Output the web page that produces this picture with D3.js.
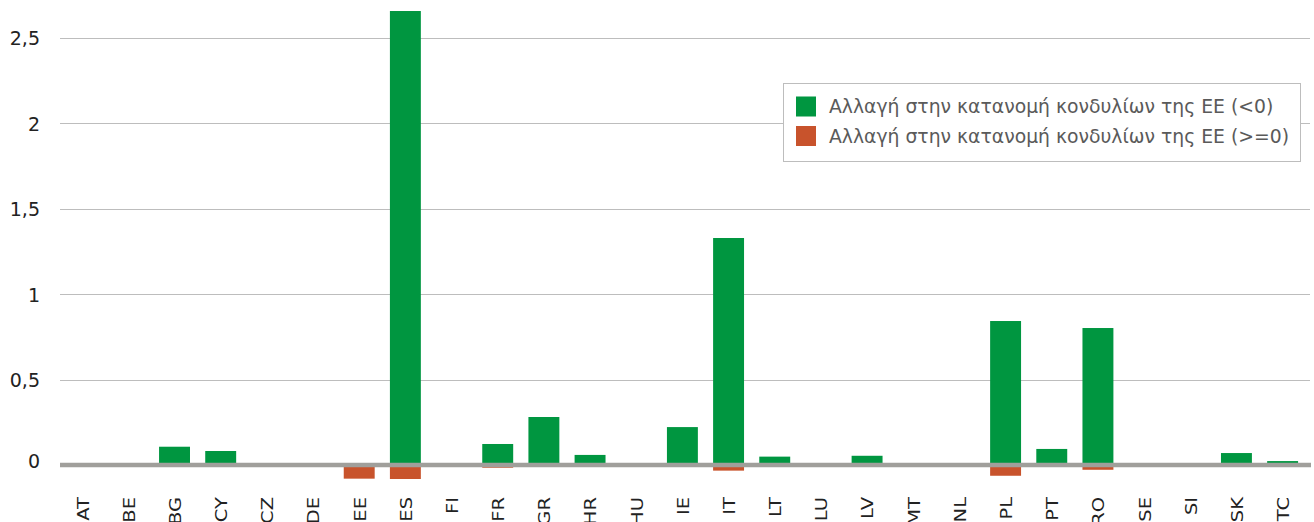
<!DOCTYPE html>
<html lang="el">
  <head>
    <meta charset="utf-8" />
    <title>Αλλαγή στην κατανομή κονδυλίων της ΕΕ</title>
    <style>
      html, body {
        margin: 0;
        padding: 0;
        background: #ffffff;
      }
      svg {
        display: block;
      }
      svg text {
        font-family: "DejaVu Sans", sans-serif;
      }
      .grid line {
        stroke: #bdbdbd;
        stroke-width: 1;
        shape-rendering: crispEdges;
      }
      .y-axis text {
        fill: #222;
        font-size: 19px;
      }
      .x-label {
        fill: #222;
        font-size: 15px;
      }
      .legend text {
        fill: #5a5a5a;
        font-size: 18.8px;
      }
    </style>
    <script src="https://d3js.org/d3.v7.min.js"></script>
  </head>
<body>
<svg width="1314" height="522"></svg>
<script>

    // data
    var countries = ["AT", "BE", "BG", "CY", "CZ", "DE", "EE", "ES", "FI", "FR", "GR", "HR", "HU", "IE",
                     "IT", "LT", "LU", "LV", "MT", "NL", "PL", "PT", "RO", "SE", "SI", "SK", "TC"];
    var seriesNames = ["Αλλαγή στην κατανομή κονδυλίων της ΕΕ (<0)",
                       "Αλλαγή στην κατανομή κονδυλίων της ΕΕ (>=0)"];
    // green bars
    var greenValues = [0, 0, 0.107, 0.082, 0, 0, 0, 2.658, 0, 0.123, 0.281, 0.059, 0, 0.222,
                       1.329, 0.049, 0, 0.054, 0, 0, 0.843, 0.094, 0.802, 0, 0, 0.070, 0.023];
    // orange bars
    var orangeValues = [0, 0, 0, 0, 0, 0, -0.080, -0.082, 0, -0.016, 0, 0, 0, 0,
                        -0.033, 0, 0, 0, 0, 0, -0.063, 0, -0.028, 0, 0, 0, 0];
    var yTicks = [0, 0.5, 1, 1.5, 2, 2.5];

    var colors = ["#009640", "#c8532c"];

    var svg = d3.select("svg");

    var xScale = d3.scaleBand()
        .domain(countries)
        .range([59.1, 1305.7])
        .paddingInner(0.33)
        .paddingOuter(0.165);

    var yScale = d3.scaleLinear()
        .domain([0, 2.5])
        .range([465, 38]);

    var gridLeft = 60, gridRight = 1310;

    // horizontal grid
    svg.append("g")
       .attr("class", "grid")
       .selectAll("line")
       .data(yTicks.filter(function(d) { return d !== 0; }))
       .enter().append("line")
       .attr("x1", gridLeft)
       .attr("x2", gridRight)
       .attr("y1", function(d) { return Math.round(yScale(d)) + 0.5; })
       .attr("y2", function(d) { return Math.round(yScale(d)) + 0.5; });

    // y labels
    var yAxis = svg.append("g")
       .attr("class", "y-axis")
       .attr("transform", "translate(40,0)")
       .call(d3.axisLeft(yScale)
         .tickValues(yTicks)
         .tickSize(0)
         .tickPadding(0)
         .tickFormat(function(d) { return String(d).replace(".", ","); }));
    yAxis.select(".domain").remove();
    yAxis.selectAll("text").attr("dy", "0.36em");
    yAxis.selectAll(".tick").filter(function(d) { return d === 0; })
         .select("text").attr("y", -4);

    // bars
    svg.append("g")
       .selectAll("rect")
       .data(countries)
       .enter().append("rect")
       .attr("fill", colors[0])
       .attr("x", function(d) { return xScale(d); })
       .attr("width", xScale.bandwidth())
       .attr("y", function(d, i) { return yScale(greenValues[i]); })
       .attr("height", function(d, i) { return yScale(0) - yScale(greenValues[i]); });

    svg.append("g")
       .selectAll("rect")
       .data(countries)
       .enter().append("rect")
       .attr("fill", colors[1])
       .attr("x", function(d) { return xScale(d); })
       .attr("width", xScale.bandwidth())
       .attr("y", yScale(0))
       .attr("height", function(d, i) { return yScale(orangeValues[i]) - yScale(0); });

    // zero line
    svg.append("line")
       .attr("x1", gridLeft)
       .attr("x2", gridRight + 1)
       .attr("y1", yScale(0))
       .attr("y2", yScale(0))
       .attr("stroke", "#a09f9b")
       .attr("stroke-width", 4.5);

    // x labels, rotated, running off the bottom edge (wide square face -> stretched)
    svg.append("g")
       .selectAll("g")
       .data(countries)
       .enter().append("g")
       .attr("transform", function(d) {
           return "translate(" + (xScale(d) + xScale.bandwidth() / 2 + 1) + ",497) rotate(-90) scale(1.3,1)";
       })
       .append("text")
       .attr("class", "x-label")
       .attr("text-anchor", "end")
       .attr("dy", "0.36em")
       .text(function(d) { return d; });

    // legend
    var legend = svg.append("g")
       .attr("class", "legend")
       .attr("transform", "translate(783.5,83.5)");
    legend.append("rect")
       .attr("width", 517)
       .attr("height", 78)
       .attr("fill", "#ffffff")
       .attr("stroke", "#bdbdbd");
    var items = legend.selectAll(".item")
       .data(seriesNames)
       .enter().append("g")
       .attr("class", "item")
       .attr("transform", function(d, i) { return "translate(12.5," + (13 + i * 29.5) + ")"; });
    items.append("rect")
       .attr("width", 20)
       .attr("height", 20)
       .attr("fill", function(d, i) { return colors[i]; });
    items.append("text")
       .attr("x", 33)
       .attr("y", 10)
       .attr("dy", "0.35em")
       .text(function(d) { return d; });

</script>
</body>
</html>
